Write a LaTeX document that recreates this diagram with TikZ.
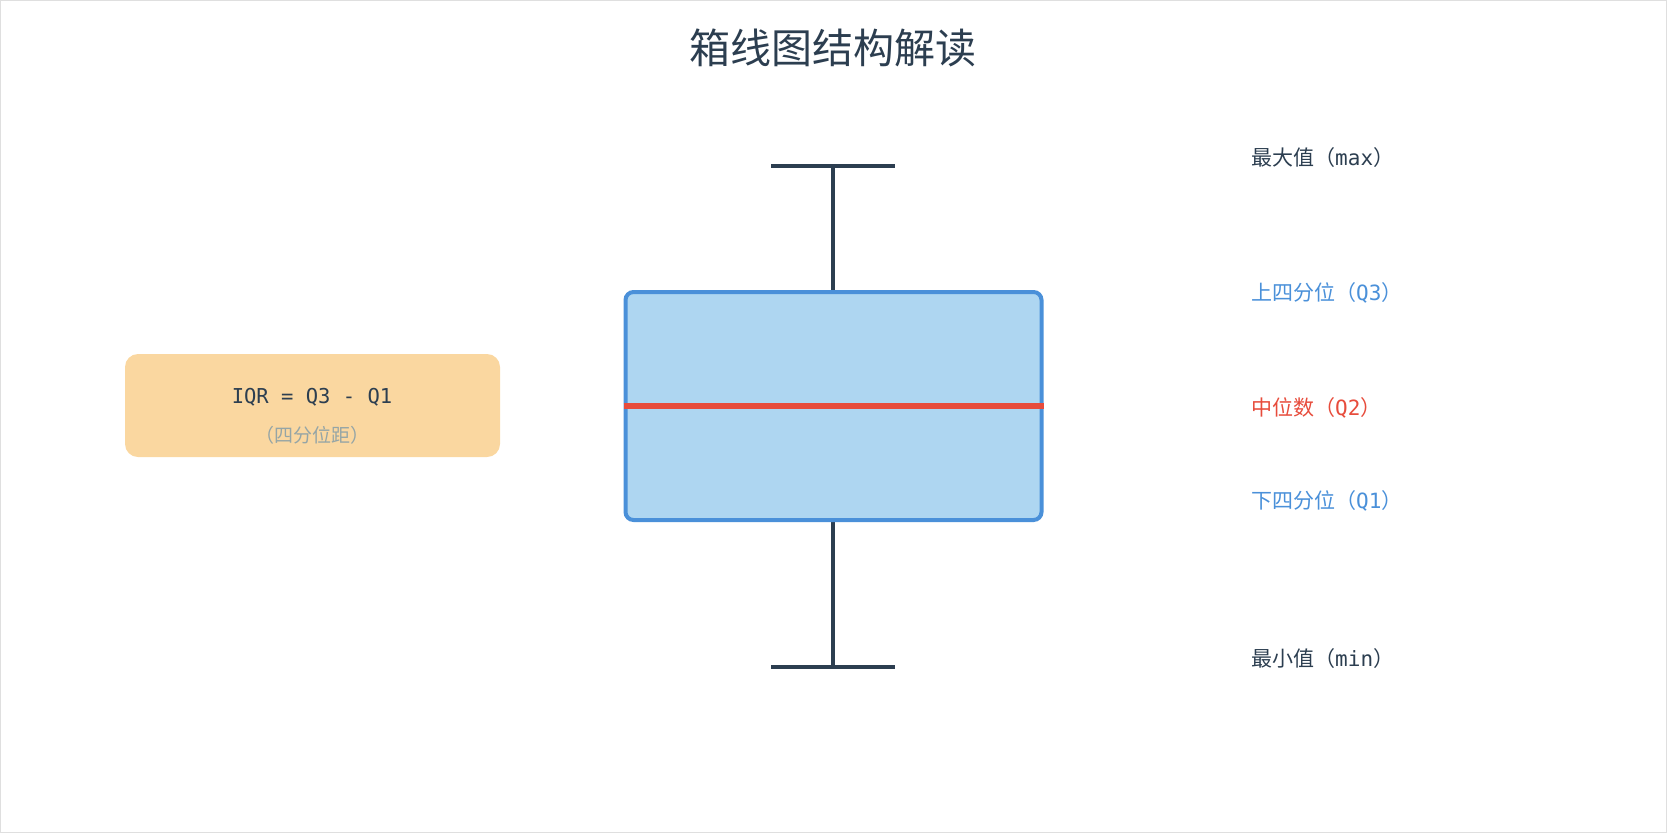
\documentclass[tikz,border=0pt]{standalone}
\usepackage{fontspec}
\setmainfont{Noto Sans CJK SC}
\setmonofont{DejaVu Sans Mono}
\usepackage{xcolor}
\usetikzlibrary{positioning,calc}
\definecolor{navy}{HTML}{2C3E50}
\definecolor{qblue}{HTML}{4A90D9}
\definecolor{boxfill}{HTML}{AED6F1}
\definecolor{medred}{HTML}{E74C3C}
\definecolor{iqrfill}{HTML}{FAD7A0}
\definecolor{subgray}{HTML}{95A5A6}
\tikzset{
  whisker/.style={navy,line width=4pt},
  sidelab/.style={anchor=west,inner sep=0pt,font=\fontsize{21}{25}\selectfont}
}

\begin{document}
\begin{tikzpicture}[x=1pt,y=-1pt]
\draw[gray!25,line width=1pt] (0.5,0.5) rectangle (1666.5,832.5);
\useasboundingbox (0,0) rectangle (1667,833);
\node[navy,font=\fontsize{41}{49}\selectfont] (title) at (833,48) {箱线图结构解读};
% whisker ends
\coordinate (maxpt) at (833,166);
\coordinate (minpt) at (833,667);
\draw[whisker] ([xshift=-62pt]maxpt) -- ([xshift=62pt]maxpt);
\draw[whisker] ([xshift=-62pt]minpt) -- ([xshift=62pt]minpt);
\draw[whisker] (833,406) -- (maxpt);
\draw[whisker] (833,406) -- (minpt);
% the box and its median
\node[draw=qblue,fill=boxfill,line width=4pt,rounded corners=8pt,
  minimum width=416pt,minimum height=228pt,inner sep=0pt] (box) at (833.5,406) {};
\draw[medred,line width=6.5pt] (box.west) -- (box.east);
% labels on the right
\node[sidelab,navy]   (maxlab) at (1251,158) {最大值（\texttt{max}）};
\node[sidelab,qblue]  (q3lab)  at (1251,293) {上四分位（\texttt{Q3}）};
\node[sidelab,medred] (q2lab)  at (1251,408) {中位数（\texttt{Q2}）};
\node[sidelab,qblue]  (q1lab)  at (1251,501) {下四分位（\texttt{Q1}）};
\node[sidelab,navy]   (minlab) at (1251,659) {最小值（\texttt{min}）};
% IQR note
\node[fill=iqrfill,rounded corners=13pt,minimum width=375pt,minimum height=103pt,
  inner sep=0pt] (iqr) at (312.5,405.5) {};
\node[navy,font=\fontsize{20.5}{24}\selectfont] (iqrtext) at (312,397) {\texttt{IQR = Q3 - Q1}};
\node[subgray,font=\fontsize{19}{22}\selectfont] (iqrsub) at (312,435) {（四分位距）};
\end{tikzpicture}
\end{document}
